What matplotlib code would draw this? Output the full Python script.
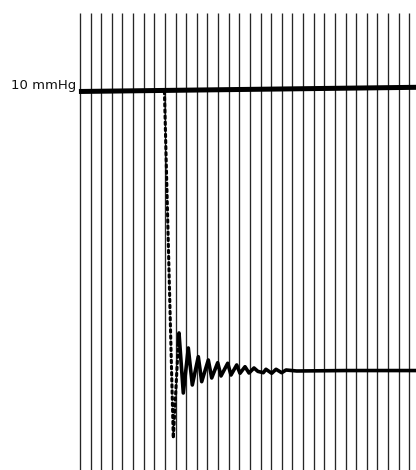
import matplotlib
matplotlib.use("Agg")
import matplotlib.pyplot as plt

# Registro de presión: prueba de onda cuadrada (10 mmHg -> 0)
# eje x en divisiones del papel, eje y en mmHg
grid_divs = list(range(32))
ref_x = [-0.1, 31.64]
ref_y = [10.0, 10.15]

# caída rápida (tinta punteada)
drop_x = [7.95, 8.785, 9.25]
drop_y = [10.0, -2.45, 0.9]

# oscilación amortiguada hasta 0 mmHg
osc_x = [9.25, 9.322, 9.727, 10.198, 10.574, 11.139, 11.459, 12.081, 12.401,
         12.966, 13.277, 13.908, 14.218, 14.755, 15.066, 15.537, 15.913,
         16.384, 16.75, 17.26, 17.51, 18.05, 18.46, 18.99, 19.40, 20.4,
         25.0, 31.64]
osc_y = [0.9, 1.329, -0.826, 0.790, -0.539, 0.478, -0.420, 0.359, -0.287,
         0.262, -0.215, 0.241, -0.180, 0.180, -0.118, 0.118, -0.108,
         0.072, -0.05, -0.097, 0.025, -0.118, 0.025, -0.097, 0.0, -0.036,
         -0.02, -0.02]

fig = plt.figure(figsize=(4.16, 4.70), dpi=100)
ax = fig.add_axes([0, 0, 1, 1])
ax.set_xlim(-7.533, 31.638)
ax.set_ylim(-3.591, 13.285)
ax.axis('off')

# líneas verticales del papel
ax.vlines(grid_divs, -4, 12.82, color='#262626', lw=0.95)

# línea de referencia 10 mmHg
ax.plot(ref_x, ref_y, color='black', lw=3.6, solid_capstyle='butt')
ax.text(-0.35, 10.2, '10 mmHg', ha='right', va='center', fontsize=9.5,
        color='#111111')

ax.plot(drop_x, drop_y, color='black', lw=2.2, linestyle=(0, (0.8, 1.2)),
        dash_capstyle='round')
ax.plot(osc_x, osc_y, color='black', lw=2.6, solid_joinstyle='round')

fig.savefig('out.png', dpi=100)
